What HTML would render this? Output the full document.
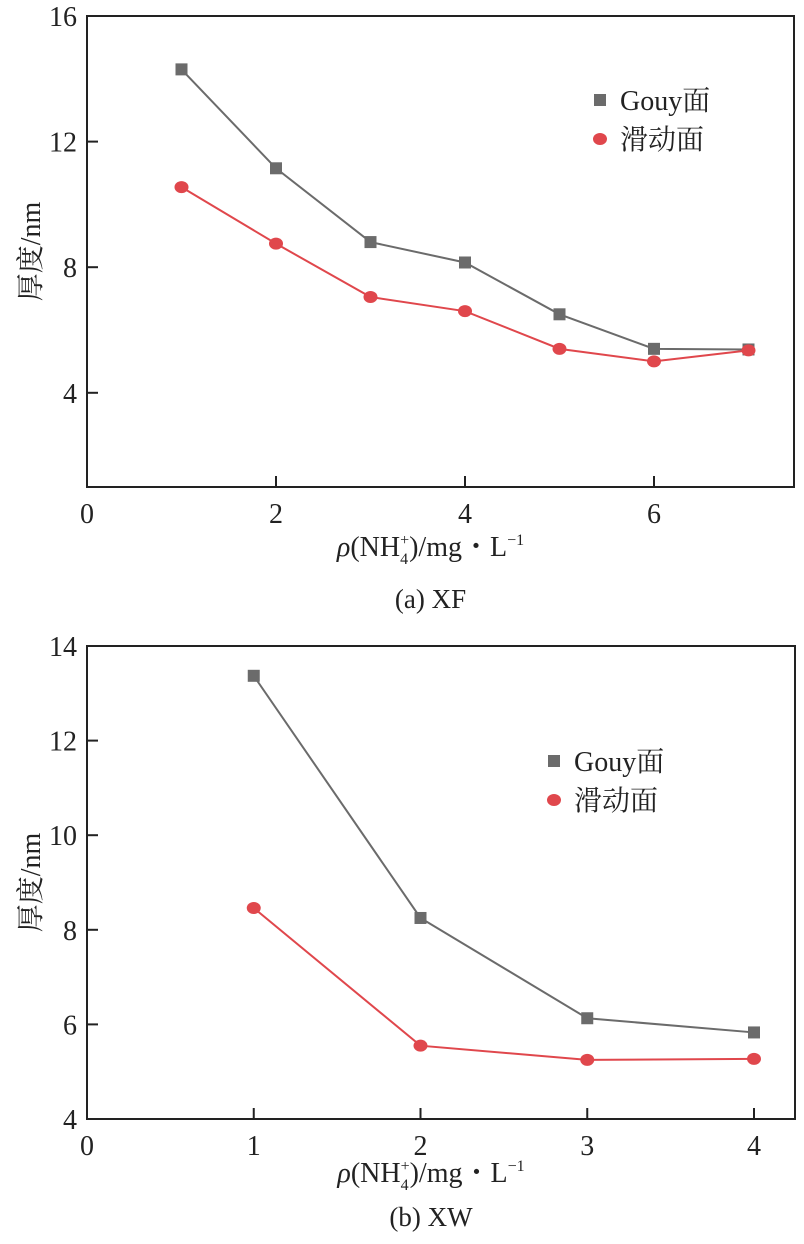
<!DOCTYPE html>
<html><head><meta charset="utf-8"><style>
body{margin:0;background:#fff}
svg text{font-family:"Liberation Serif","Noto Serif CJK SC",serif;fill:#222}
</style></head><body>
<svg width="804" height="1239">
<g id="c1"></g>
<g id="c2"></g>
</svg>
<script>
const catsA=[1,2,3,4,5,6,7];
const gouyA=[14.3,11.15,8.8,8.15,6.5,5.4,5.38];
const slipA=[10.55,8.75,7.05,6.6,5.4,5.0,5.35];
const xTicksA=[0,2,4,6];
const yTicksA=[4,8,12,16];
const catsB=[1,2,3,4];
const gouyB=[13.37,8.25,6.13,5.83];
const slipB=[8.46,5.55,5.25,5.27];
const xTicksB=[0,1,2,3,4];
const yTicksB=[4,6,8,10,12,14];
const NS="http://www.w3.org/2000/svg";
function mk(p,t,a){const e=document.createElementNS(NS,t);for(const k in a)e.setAttribute(k,a[k]);p.appendChild(e);return e;}
function draw(g,cfg){
 const {L,R,T,B,x0,x1,y0,y1,cats,gouy,slip,xt,yt,leg,caption,capY,xtY}=cfg;
 const sx=v=>L+(v-x0)/(x1-x0)*(R-L), sy=v=>B-(v-y0)/(y1-y0)*(B-T);
 const f=mk(g,'rect',{x:L,y:T,width:R-L,height:B-T,fill:'none',stroke:'#222','stroke-width':2});
 
 xt.forEach(v=>{const l=mk(g,'line',{x1:sx(v),x2:sx(v),y1:B,y2:B-11,stroke:'#222','stroke-width':2});
  
  const t=mk(g,'text',{x:sx(v),y:B+36,'text-anchor':'middle','font-size':28});t.textContent=v;
  });
 yt.forEach(v=>{const l=mk(g,'line',{x1:L,x2:L+11,y1:sy(v),y2:sy(v),stroke:'#222','stroke-width':2});
  
  const t=mk(g,'text',{x:L-10,y:sy(v)+10,'text-anchor':'end','font-size':28});t.textContent=v;
  });
 const ser=[[gouy,'#6b6b6b','sq'],[slip,'#e0474c','ci']];
 ser.forEach(([d,c,m])=>{
  const pl=mk(g,'polyline',{points:d.map((v,i)=>sx(cats[i])+','+sy(v)).join(' '),fill:'none',stroke:c,'stroke-width':2});
  
  d.forEach((v,i)=>{let e;
   if(m=='sq')e=mk(g,'rect',{x:sx(cats[i])-6,y:sy(v)-6,width:12,height:12,fill:c});
   else e=mk(g,'ellipse',{cx:sx(cats[i]),cy:sy(v),rx:7,ry:6,fill:c});
   });
 });
 const [lx,ly]=leg;
 let e=mk(g,'rect',{x:lx-6,y:ly-6,width:12,height:12,fill:'#6b6b6b'});
 let t=mk(g,'text',{x:lx+20,y:ly+10,'font-size':28});t.textContent='Gouy面';
 e=mk(g,'ellipse',{cx:lx,cy:ly+39,rx:7,ry:6,fill:'#e0474c'});
 t=mk(g,'text',{x:lx+20,y:ly+49,'font-size':28});t.textContent='滑动面';
 const cy=(T+B)/2;
 t=mk(g,'text',{x:0,y:0,'font-size':28,'text-anchor':'middle',transform:`translate(40,${cy}) rotate(-90)`});t.textContent='厚度/nm';
 
 t=mk(g,'text',{x:(L+R)/2-10,y:xtY,'font-size':28,'text-anchor':'middle'});
 t.innerHTML='<tspan font-style="italic">ρ</tspan>(NH<tspan font-size="16" dy="8">4</tspan><tspan font-size="16" dx="-8" dy="-19">+</tspan><tspan dy="11">)/mg・L</tspan><tspan font-size="16" dy="-11">−1</tspan>';
 
 t=mk(g,'text',{x:(L+R)/2-10,y:capY,'font-size':27,'text-anchor':'middle'});t.textContent=caption;
 
}
draw(document.getElementById('c1'),{L:87,R:794,T:16,B:487,x0:0,x1:(794-87)/94.5,y0:1,y1:16,cats:catsA,gouy:gouyA,slip:slipA,xt:xTicksA,yt:yTicksA,leg:[600,100],caption:'(a) XF',capY:608,xtY:556});
draw(document.getElementById('c2'),{L:87,R:795,T:646,B:1119,x0:0,x1:(795-87)/166.75,y0:4,y1:14,cats:catsB,gouy:gouyB,slip:slipB,xt:xTicksB,yt:yTicksB,leg:[554,761],caption:'(b) XW',capY:1226,xtY:1182});
</script>
</body></html>
